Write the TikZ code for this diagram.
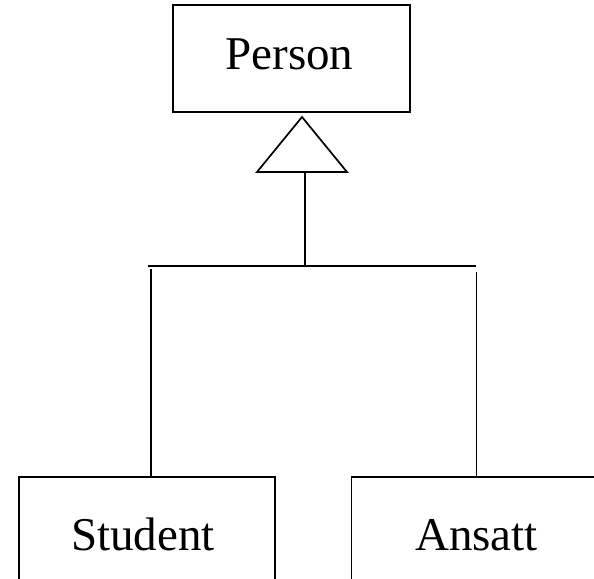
\documentclass[tikz,border=0pt]{standalone}
\usepackage{fontspec}
\setmainfont{Liberation Serif}
\begin{document}
\begin{tikzpicture}[x=1pt,y=-1pt,
  line width=1.7pt,
  cls/.style={draw, rectangle, inner sep=0pt},
  lbl/.style={anchor=base, inner sep=0pt, font=\fontsize{47}{56}\selectfont}]
\useasboundingbox (0,0) rectangle (594,578);
\fill[white] (0,0) rectangle (594,578);
\node[cls, minimum width=237pt, minimum height=107pt] (person) at (291.5,58.5) {};
\node[lbl] (personlbl) at (289.5,70) {Person};
\node[cls, minimum width=256pt, minimum height=116pt] (student) at (147,535) {};
\node[lbl] (studentlbl) at (143,550) {Student};
\node[cls, minimum width=256pt, minimum height=116pt] (ansatt) at (479.5,535) {};
\node[lbl] (ansattlbl) at (476.5,550) {Ansatt};
\coordinate (apex) at (302,117);
\coordinate (bl) at (257,172);
\coordinate (br) at (347,172);
\draw (apex) -- (br) -- (bl) -- cycle;
\coordinate (tb) at (305,172);
\coordinate (hj) at (305,266);
\coordinate (hl) at (148,266);
\coordinate (hr) at (476,266);
\draw (tb) -- (hj);
\draw (hl) -- (hr);
\coordinate (sl) at (150.7,269);
\coordinate (ar) at (476.5,272);
\draw (sl) -- (sl |- student.north);
\draw (ar) -- (ar |- ansatt.north);
\end{tikzpicture}
\end{document}
